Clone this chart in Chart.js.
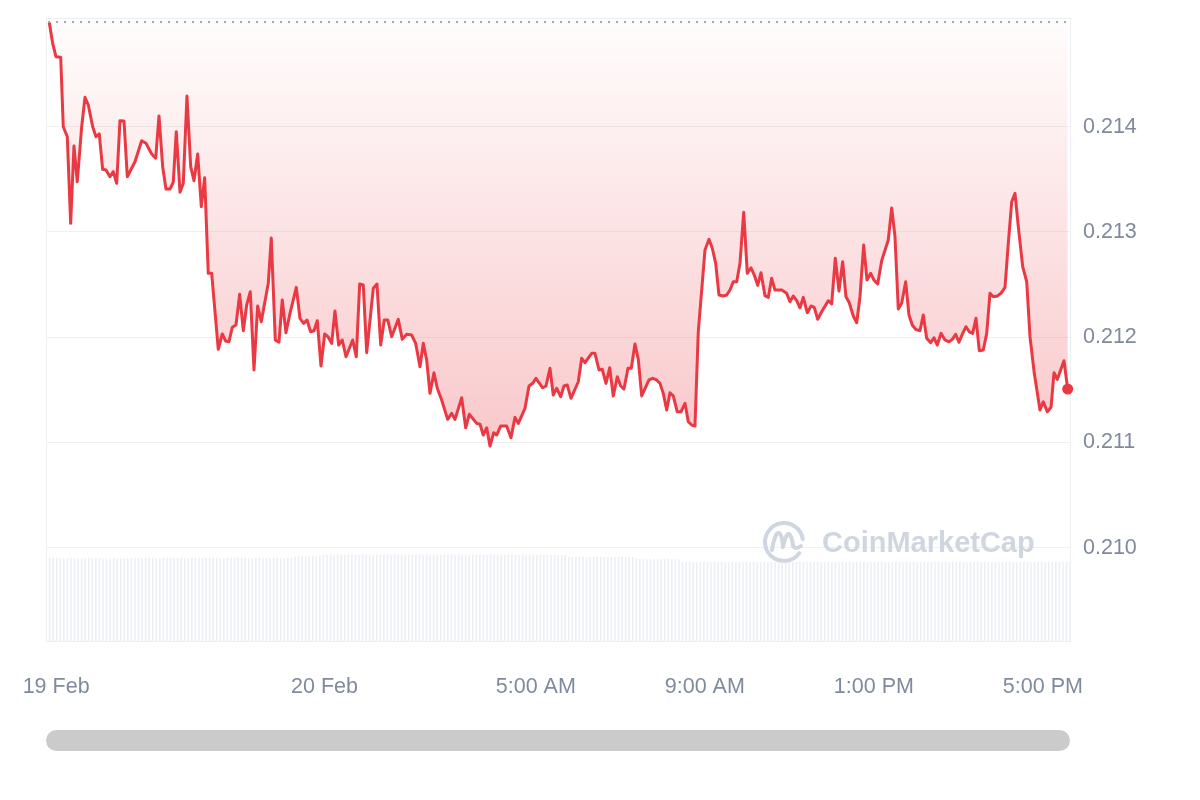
<!DOCTYPE html>
<html>
<head>
<meta charset="utf-8">
<script src="https://cdn.jsdelivr.net/npm/chart.js@4.4.1/dist/chart.umd.min.js"></script>
<style>
  html, body { margin: 0; padding: 0; background: #ffffff; }
  #wrap { position: relative; width: 1200px; height: 800px; }
  #chart { position: absolute; left: 0; top: 0; }
  .scrollbar {
    position: absolute; left: 46px; top: 730px; width: 1024px; height: 21px;
    border-radius: 11px; background: #cbcbcb;
  }
</style>
</head>
<body>
<div id="wrap">
  <canvas id="chart" width="1200" height="800"></canvas>
  <div class="scrollbar"></div>
</div>
<script>
// Time of each quote, in hours relative to 20 Feb 00:00
const hours = [
  -6.512, -6.432, -6.354, -6.242, -6.181, -6.086, -6.006, -5.928, -5.850, -5.745,
  -5.667, -5.589, -5.485, -5.407, -5.329, -5.249, -5.170, -5.076, -4.998, -4.917,
  -4.839, -4.744, -4.666, -4.484, -4.326, -4.224, -4.089, -3.994, -3.916, -3.829,
  -3.751, -3.656, -3.578, -3.507, -3.419, -3.341, -3.254, -3.166, -3.088, -3.000,
  -2.915, -2.835, -2.750, -2.669, -2.513, -2.418, -2.338, -2.260, -2.182, -2.094,
  -2.007, -1.921, -1.841, -1.756, -1.668, -1.581, -1.496, -1.330, -1.259, -1.164,
  -1.077, -0.999, -0.911, -0.816, -0.667, -0.580, -0.492, -0.414, -0.327, -0.248,
  -0.170, -0.083, 0.005, 0.083, 0.170, 0.248, 0.336, 0.421, 0.509, 0.667,
  0.752, 0.833, 0.918, 0.999, 1.155, 1.242, 1.330, 1.415, 1.498, 1.590,
  1.746, 1.841, 1.945, 2.063, 2.158, 2.260, 2.338, 2.418, 2.496, 2.591,
  2.669, 2.773, 2.915, 3.010, 3.088, 3.247, 3.341, 3.426, 3.602, 3.680,
  3.758, 3.838, 3.916, 4.004, 4.075, 4.170, 4.311, 4.413, 4.508, 4.586,
  4.745, 4.839, 4.927, 5.005, 5.163, 5.242, 5.336, 5.414, 5.495, 5.589,
  5.667, 5.745, 5.833, 6.006, 6.086, 6.164, 6.323, 6.401, 6.496, 6.574,
  6.661, 6.749, 6.834, 6.929, 7.009, 7.087, 7.182, 7.260, 7.347, 7.426,
  7.506, 7.679, 7.766, 7.861, 7.939, 8.017, 8.098, 8.176, 8.254, 8.348,
  8.436, 8.531, 8.609, 8.689, 8.767, 8.845, 9.004, 9.099, 9.177, 9.257,
  9.335, 9.437, 9.517, 9.595, 9.673, 9.754, 9.832, 9.920, 10.005, 10.093,
  10.171, 10.251, 10.329, 10.424, 10.502, 10.582, 10.660, 10.819, 10.937, 11.015,
  11.093, 11.174, 11.252, 11.330, 11.425, 11.512, 11.590, 11.671, 11.765, 11.921,
  12.002, 12.087, 12.175, 12.262, 12.340, 12.419, 12.513, 12.594, 12.672, 12.759,
  12.837, 12.925, 13.003, 13.091, 13.185, 13.341, 13.422, 13.500, 13.578, 13.658,
  13.753, 13.831, 13.909, 13.990, 14.091, 14.169, 14.250, 14.345, 14.423, 14.501,
  14.589, 14.683, 14.778, 14.856, 14.936, 15.014, 15.102, 15.180, 15.258, 15.339,
  15.417, 15.495, 15.589, 15.670, 15.748, 15.826, 15.921, 16.008, 16.103, 16.181,
  16.262, 16.340, 16.418, 16.522, 16.617, 16.695, 16.796, 16.931, 17.009, 17.104,
  17.192, 17.263, 17.341, 17.499, 17.587
];

// Price in USD at each of those times
const prices = [
  0.214990, 0.214792, 0.214665, 0.214659, 0.214000, 0.213905, 0.213082, 0.213817, 0.213477, 0.214000,
  0.214279, 0.214206, 0.214000, 0.213905, 0.213931, 0.213595, 0.213589, 0.213525, 0.213573, 0.213462,
  0.214057, 0.214054, 0.213525, 0.213667, 0.213867, 0.213842, 0.213741, 0.213700, 0.214102, 0.213620,
  0.213408, 0.213408, 0.213472, 0.213953, 0.213377, 0.213462, 0.214292, 0.213620, 0.213487, 0.213741,
  0.213240, 0.213515, 0.212607, 0.212607, 0.211885, 0.212031, 0.211964, 0.211957, 0.212094, 0.212116,
  0.212408, 0.212062, 0.212306, 0.212432, 0.211689, 0.212297, 0.212147, 0.212512, 0.212943, 0.211974,
  0.211952, 0.212354, 0.212043, 0.212227, 0.212474, 0.212180, 0.212132, 0.212164, 0.212052, 0.212062,
  0.212157, 0.211727, 0.212031, 0.212005, 0.211942, 0.212249, 0.211926, 0.211974, 0.211815, 0.211974,
  0.211815, 0.212506, 0.212496, 0.211853, 0.212465, 0.212506, 0.211926, 0.212164, 0.212164, 0.212005,
  0.212170, 0.211980, 0.212028, 0.212021, 0.211942, 0.211720, 0.211942, 0.211784, 0.211467, 0.211663,
  0.211515, 0.211404, 0.211220, 0.211277, 0.211220, 0.211425, 0.211140, 0.211268, 0.211182, 0.211173,
  0.211071, 0.211140, 0.210967, 0.211093, 0.211071, 0.211157, 0.211157, 0.211045, 0.211239, 0.211182,
  0.211325, 0.211537, 0.211562, 0.211610, 0.211520, 0.211537, 0.211705, 0.211451, 0.211515, 0.211435,
  0.211537, 0.211546, 0.211420, 0.211577, 0.211800, 0.211758, 0.211847, 0.211847, 0.211689, 0.211695,
  0.211562, 0.211710, 0.211442, 0.211625, 0.211537, 0.211508, 0.211705, 0.211705, 0.211936, 0.211790,
  0.211442, 0.211594, 0.211610, 0.211594, 0.211562, 0.211467, 0.211309, 0.211473, 0.211442, 0.211292,
  0.211292, 0.211372, 0.211197, 0.211166, 0.211157, 0.212052, 0.212829, 0.212930, 0.212845, 0.212702,
  0.212401, 0.212392, 0.212401, 0.212449, 0.212527, 0.212527, 0.212702, 0.213187, 0.212607, 0.212660,
  0.212591, 0.212493, 0.212613, 0.212394, 0.212379, 0.212560, 0.212449, 0.212449, 0.212417, 0.212337,
  0.212392, 0.212347, 0.212280, 0.212379, 0.212233, 0.212297, 0.212284, 0.212170, 0.212242, 0.212347,
  0.212316, 0.212750, 0.212439, 0.212717, 0.212385, 0.212328, 0.212202, 0.212138, 0.212385, 0.212876,
  0.212544, 0.212607, 0.212544, 0.212506, 0.212727, 0.212924, 0.213228, 0.212955, 0.212268, 0.212322,
  0.212527, 0.212211, 0.212116, 0.212075, 0.212062, 0.212211, 0.211990, 0.211948, 0.211995, 0.211926,
  0.212037, 0.211974, 0.211957, 0.211980, 0.212028, 0.211952, 0.212037, 0.212100, 0.212052, 0.212037,
  0.212180, 0.211872, 0.211879, 0.212037, 0.212417, 0.212385, 0.212392, 0.212417, 0.212474, 0.212892,
  0.213287, 0.213367, 0.213050, 0.212670, 0.212527, 0.212005, 0.211657, 0.211309, 0.211387, 0.211292,
  0.211334, 0.211663, 0.211600, 0.211777, 0.211508
];

// Opening price of the period (reference line the area is filled against)
const openPrice = 0.21499;

// Trading volume per 5-minute slot across the window
const volumes = [
  421, 420, 421, 419, 418, 418, 419, 418, 417, 418, 418, 419,
  418, 417, 418, 418, 417, 418, 419, 418, 418, 417, 418,
  420, 421, 421, 420, 421, 422, 421, 421, 420, 421, 421, 422,
  421, 420, 421, 421, 421, 422, 421, 421, 420, 421, 421, 422,
  421, 421, 420, 421, 421, 421, 422, 421, 420, 421, 421, 421,
  422, 421, 421, 420, 421, 422, 421, 421, 421, 422,
  428, 430, 430, 431, 430, 430, 431, 432,
  437, 438, 437, 437, 438, 438, 437, 437, 438, 437, 437, 438,
  438, 437, 437, 438, 437, 437, 438, 437, 438, 437, 437, 438,
  438, 437, 437, 438, 437, 437, 438, 437, 438, 437, 437, 438,
  438, 437, 437, 438, 437, 437, 438, 437, 438, 437, 437, 438,
  437, 437, 438, 437, 438, 437, 437, 438, 437, 437, 438, 437,
  436, 436, 437, 436, 435, 436, 436, 435, 436,
  426, 425, 425, 426, 425, 424, 425, 425, 426, 425, 425, 424,
  425, 425, 426, 425, 424, 425, 424,
  416, 415, 415, 416, 415, 414, 415, 415, 416, 415, 414, 415, 414,
  400, 401, 400, 400, 399, 400, 401, 400, 400, 400, 399, 400,
  401, 400, 400, 399, 400, 400, 401, 400, 400, 399, 400, 400,
  400, 401, 400, 400, 400, 399, 400, 401, 400, 400, 400, 401,
  399, 400, 400, 401, 400, 400, 399, 400, 400, 401, 400, 400,
  400, 400, 401, 400, 399, 400, 400, 400, 401, 400, 400, 399,
  401, 400, 400, 400, 399, 400, 401, 400, 400, 400, 400, 401,
  400, 399, 400, 400, 401, 400, 400, 400, 399, 400, 401, 400,
  400, 401, 400, 399, 400, 400, 400, 401, 400, 400, 399, 400,
  401, 400, 400, 400, 400, 399, 400, 401, 400, 400, 400, 400,
  400, 400
];
const volumeSlots = volumes.map((_, i) => i);

// Axis ticks
const priceTicks = [0.210, 0.211, 0.212, 0.213, 0.214];
const timeTicks = [-6.35, 0, 5, 9, 13, 17];
const timeTickLabels = ['19 Feb', '20 Feb', '5:00 AM', '9:00 AM', '1:00 PM', '5:00 PM'];

// Visible window
const timeMin = -6.566, timeMax = 17.665;
const priceMin = 0.209105, priceMax = 0.215023;
const volumeMax = 3115;

const RED = '#ea3943';
const LABEL = '#808a9d';
const GRID = '#eef0f3';
const NONE = 'rgba(0,0,0,0)';
const FONT = '"Liberation Sans", Arial, Helvetica, sans-serif';

// Light border around the plot area
const frame = {
  id: 'frame',
  beforeDatasetsDraw(chart) {
    const { ctx, chartArea: a } = chart;
    ctx.save();
    ctx.strokeStyle = '#eceff2';
    ctx.lineWidth = 1;
    ctx.strokeRect(a.left - 0.5, a.top - 0.5, a.right - a.left, a.bottom - a.top);
    ctx.restore();
  }
};

// Faint brand mark in the lower right of the plot
const watermark = {
  id: 'watermark',
  beforeDatasetsDraw(chart) {
    const { ctx, chartArea: a } = chart;
    const cx = a.right - 287, cy = a.bottom - 100, r = 19;
    ctx.save();
    ctx.strokeStyle = '#cfd6e0';
    ctx.fillStyle = '#cfd6e0';
    ctx.lineWidth = 4;
    ctx.lineCap = 'round';
    ctx.lineJoin = 'round';
    ctx.beginPath();
    ctx.arc(cx, cy, r, 0.2 * Math.PI, 1.95 * Math.PI);
    ctx.stroke();
    ctx.beginPath();
    ctx.moveTo(cx - 12, cy + 8);
    ctx.quadraticCurveTo(cx - 9, cy - 10, cx - 5, cy - 9);
    ctx.quadraticCurveTo(cx - 2, cy - 8, cx - 1, cy + 5);
    ctx.quadraticCurveTo(cx + 2, cy - 9, cx + 5, cy - 8);
    ctx.quadraticCurveTo(cx + 8, cy - 6, cx + 9, cy + 4);
    ctx.quadraticCurveTo(cx + 12, cy + 8, cx + 17, cy + 4);
    ctx.stroke();
    ctx.font = 'bold 29px ' + FONT;
    ctx.textBaseline = 'alphabetic';
    ctx.textAlign = 'left';
    ctx.fillText('CoinMarketCap', a.right - 249, a.bottom - 90);
    ctx.restore();
  }
};

// Dotted line at the opening price
const openLine = {
  id: 'openLine',
  afterDatasetsDraw(chart) {
    const { ctx, chartArea: a, scales } = chart;
    const y = Math.round(scales.y.getPixelForValue(openPrice));
    ctx.save();
    ctx.strokeStyle = '#a3a9b5';
    ctx.lineWidth = 2;
    ctx.setLineDash([2, 6]);
    ctx.beginPath();
    ctx.moveTo(a.left + 1, y);
    ctx.lineTo(a.right, y);
    ctx.stroke();
    ctx.restore();
  }
};

const points = hours.map((h, i) => ({ x: h, y: prices[i] }));

new Chart(document.getElementById('chart'), {
  data: {
    datasets: [
      {
        type: 'line',
        data: points,
        xAxisID: 'x',
        yAxisID: 'y',
        order: 1,
        clip: false,
        borderColor: RED,
        borderWidth: 3,
        borderJoinStyle: 'round',
        tension: 0,
        pointRadius: ctx => (ctx.dataIndex === prices.length - 1 ? 5.5 : 0),
        pointBackgroundColor: RED,
        pointBorderWidth: 0,
        fill: { value: openPrice },
        backgroundColor: ctx => {
          const { chart } = ctx;
          const a = chart.chartArea;
          if (!a) return 'rgba(234,57,67,0.1)';
          const g = chart.ctx.createLinearGradient(0, a.top, 0, a.top + 430);
          g.addColorStop(0, 'rgba(234,57,67,0.01)');
          g.addColorStop(1, 'rgba(234,57,67,0.28)');
          return g;
        }
      },
      {
        type: 'bar',
        data: volumes,
        xAxisID: 'xVol',
        yAxisID: 'yVol',
        order: 2,
        backgroundColor: '#ebeff4',
        barPercentage: 0.9,
        categoryPercentage: 1
      }
    ]
  },
  options: {
    responsive: false,
    animation: false,
    devicePixelRatio: 1,
    events: [],
    layout: { autoPadding: false, padding: { left: 47, top: 19, right: 0, bottom: 0 } },
    plugins: { legend: { display: false }, tooltip: { enabled: false } },
    scales: {
      x: {
        type: 'linear',
        position: 'bottom',
        min: timeMin,
        max: timeMax,
        afterBuildTicks: s => { s.ticks = timeTicks.map(v => ({ value: v })); },
        afterFit: s => { s.height = 158; },
        grid: { display: true, drawOnChartArea: false, drawTicks: true, tickLength: 32, tickColor: NONE, color: NONE },
        border: { display: false },
        ticks: {
          autoSkip: false,
          maxRotation: 0,
          padding: 0,
          color: LABEL,
          font: { family: FONT, size: 21.5 },
          callback: v => timeTickLabels[timeTicks.indexOf(v)]
        }
      },
      y: {
        type: 'linear',
        position: 'right',
        min: priceMin,
        max: priceMax,
        afterBuildTicks: s => { s.ticks = priceTicks.map(v => ({ value: v })); },
        afterFit: s => { s.width = 129; },
        grid: { color: GRID, lineWidth: 1, drawTicks: true, tickLength: 12, tickColor: NONE },
        border: { display: false },
        ticks: {
          padding: 0,
          color: LABEL,
          font: { family: FONT, size: 21.5 },
          callback: v => v.toFixed(3)
        }
      },
      xVol: {
        type: 'category',
        labels: volumeSlots,
        display: false,
        offset: true
      },
      yVol: {
        type: 'linear',
        display: false,
        min: 0,
        max: volumeMax
      }
    }
  },
  plugins: [frame, watermark, openLine]
});
</script>
</body>
</html>
